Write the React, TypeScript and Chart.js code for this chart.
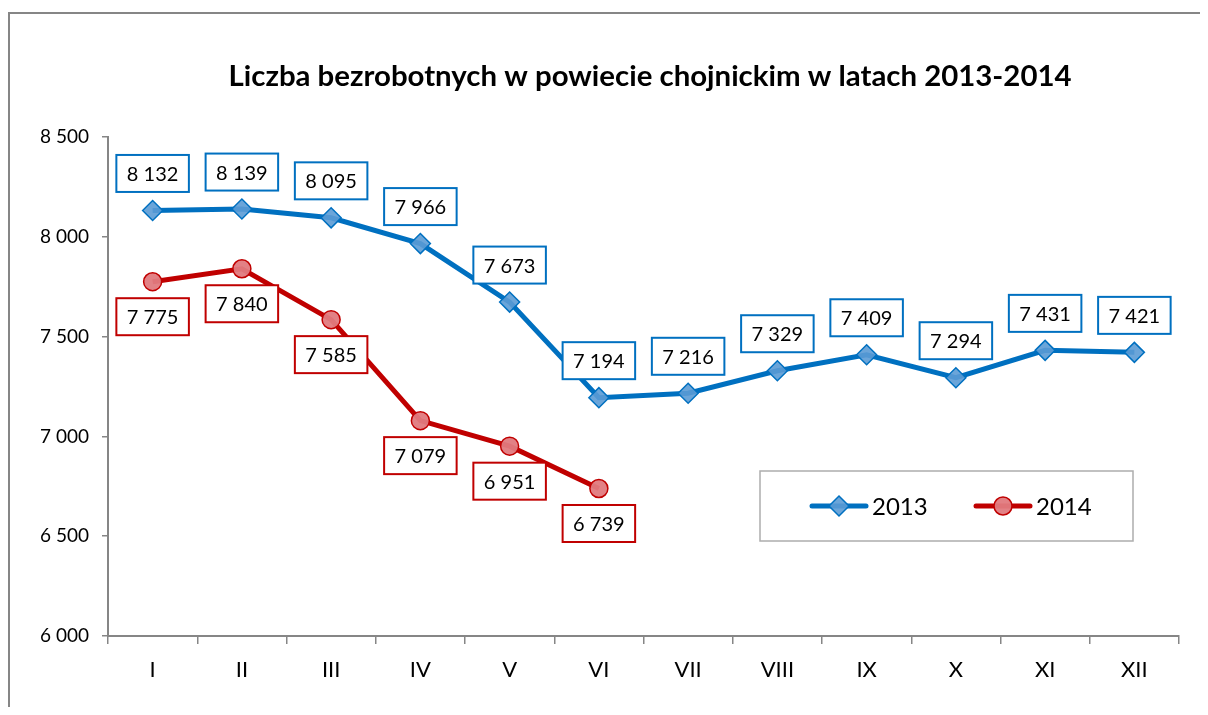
import React, { useEffect, useRef } from "react";
import { Chart, registerables } from "chart.js";

Chart.register(...registerables);

const months = ["I", "II", "III", "IV", "V", "VI", "VII", "VIII", "IX", "X", "XI", "XII"];
const values2013 = [8132, 8139, 8095, 7966, 7673, 7194, 7216, 7329, 7409, 7294, 7431, 7421];
const values2014 = [7775, 7840, 7585, 7079, 6951, 6739, null, null, null, null, null, null];
const seriesNames = ["2013", "2014"];
const yMin = 6000;
const yMax = 8500;
const yStep = 500;
const titleText = "Liczba bezrobotnych w powiecie chojnickim w latach 2013-2014";

const BLUE = "#0070C0";
const RED = "#C00000";
const FONT = "Lato, 'Open Sans', sans-serif";

const fmt = (v: number) => {
  const s = Math.round(v).toString();
  return s.replace(/\B(?=(\d{3})+(?!\d))/g, " ");
};

const decorPlugin = {
  id: "decor",
  beforeDraw(chart: any) {
    const ctx = chart.ctx;
    ctx.save();
    ctx.fillStyle = "#ffffff";
    ctx.fillRect(0, 0, chart.width, chart.height);
    ctx.strokeStyle = "#868686";
    ctx.lineWidth = 2;
    ctx.beginPath();
    ctx.moveTo(1, chart.height + 5);
    ctx.lineTo(1, 5);
    ctx.lineTo(chart.width + 5, 5);
    ctx.stroke();
    // title
    ctx.fillStyle = "#000";
    ctx.font = `bold 29.4px ${FONT}`;
    ctx.textAlign = "center";
    ctx.textBaseline = "alphabetic";
    ctx.fillText(titleText, 642, 78);
    ctx.restore();
  },
  afterDatasetsDraw(chart: any) {
    const ctx = chart.ctx;
    ctx.save();
    ctx.font = `20px ${FONT}`;
    ctx.textAlign = "center";
    ctx.textBaseline = "middle";
    chart.data.datasets.forEach((ds: any, di: number) => {
      const meta = chart.getDatasetMeta(di);
      const off = di === 0 ? -37 : 35;
      meta.data.forEach((pt: any, i: number) => {
        const v = ds.data[i];
        if (v == null) return;
        const text = fmt(v);
        const w = ctx.measureText(text).width + 21;
        const h = 37;
        const cx = pt.x;
        const cy = pt.y + off;
        ctx.fillStyle = "#fff";
        ctx.fillRect(cx - w / 2, cy - h / 2, w, h);
        ctx.strokeStyle = ds.borderColor;
        ctx.lineWidth = 2;
        ctx.strokeRect(cx - w / 2, cy - h / 2, w, h);
        ctx.fillStyle = "#000";
        ctx.fillText(text, cx, cy + 1);
      });
    });
    ctx.restore();
  },
  afterDraw(chart: any) {
    const ctx = chart.ctx;
    ctx.save();
    // legend box
    ctx.strokeStyle = "#ADADAD";
    ctx.lineWidth = 1.5;
    ctx.strokeRect(752, 463, 373, 70);
    const items = [
      { x0: 804, x1: 858, tx: 864 },
      { x0: 968, x1: 1022, tx: 1028 },
    ];
    const y = 498;
    chart.data.datasets.forEach((ds: any, di: number) => {
      const it = items[di];
      ctx.strokeStyle = ds.borderColor;
      ctx.lineWidth = 5;
      ctx.lineCap = "round";
      ctx.beginPath();
      ctx.moveTo(it.x0, y);
      ctx.lineTo(it.x1, y);
      ctx.stroke();
      const cx = (it.x0 + it.x1) / 2;
      ctx.fillStyle = ds.pointBackgroundColor;
      ctx.strokeStyle = ds.pointBorderColor;
      ctx.lineWidth = ds.pointBorderWidth;
      ctx.beginPath();
      if (ds.pointStyle === "rectRot") {
        const r = ds.pointRadius;
        ctx.moveTo(cx - r, y);
        ctx.lineTo(cx, y - r);
        ctx.lineTo(cx + r, y);
        ctx.lineTo(cx, y + r);
        ctx.closePath();
      } else {
        ctx.arc(cx, y, ds.pointRadius, 0, Math.PI * 2);
      }
      ctx.fill();
      ctx.stroke();
      ctx.fillStyle = "#000";
      ctx.font = `24px ${FONT}`;
      ctx.textAlign = "left";
      ctx.textBaseline = "middle";
      ctx.fillText(seriesNames[di], it.tx, y + 1);
    });
    ctx.restore();
  },
};

export default function App() {
  const ref = useRef<HTMLCanvasElement>(null);
  useEffect(() => {
    if (!ref.current) return;
    const chart = new Chart(ref.current, {
      type: "line",
      data: {
        labels: months,
        datasets: [
          {
            label: seriesNames[0],
            data: values2013,
            borderColor: BLUE,
            borderWidth: 5,
            pointStyle: "rectRot",
            pointRadius: 10,
            pointBackgroundColor: "rgba(91,155,213,0.9)",
            pointBorderColor: BLUE,
            pointBorderWidth: 1.5,
            tension: 0,
          },
          {
            label: seriesNames[1],
            data: values2014,
            borderColor: RED,
            borderWidth: 5,
            pointStyle: "circle",
            pointRadius: 9,
            pointBackgroundColor: "rgba(224,122,126,0.95)",
            pointBorderColor: RED,
            pointBorderWidth: 1.5,
            tension: 0,
          },
        ],
      } as any,
      options: {
        animation: false,
        responsive: false,
        devicePixelRatio: 1,
        layout: { padding: { left: 0, right: 21, top: 129, bottom: 0 } },
        plugins: {
          legend: { display: false },
          title: { display: false },
          tooltip: { enabled: false },
        },
        scales: {
          x: {
            offset: true,
            grid: {
              offset: true,
              drawOnChartArea: false,
              drawTicks: true,
              tickLength: 8,
              color: "#868686",
              lineWidth: 1.5,
            },
            border: { color: "#868686", width: 2 },
            ticks: {
              color: "#000",
              font: { family: FONT, size: 22 },
              padding: 13,
              maxRotation: 0,
            },
            afterFit: (s: any) => {
              s.height = 71;
            },
          },
          y: {
            min: yMin,
            max: yMax,
            grid: {
              drawOnChartArea: false,
              drawTicks: true,
              tickLength: 6,
              color: "#868686",
              lineWidth: 1.5,
            },
            border: { color: "#868686", width: 2 },
            ticks: {
              stepSize: yStep,
              color: "#000",
              font: { family: FONT, size: 19 },
              padding: 13,
              callback: (v: any) => fmt(Number(v)),
            },
            afterFit: (s: any) => {
              s.width = 100;
            },
          },
        },
      } as any,
      plugins: [decorPlugin],
    });
    return () => chart.destroy();
  }, []);
  return (
    <div style={{ width: 1192, height: 699 }}>
      <canvas ref={ref} width={1192} height={699} style={{ display: "block" }} />
    </div>
  );
}
